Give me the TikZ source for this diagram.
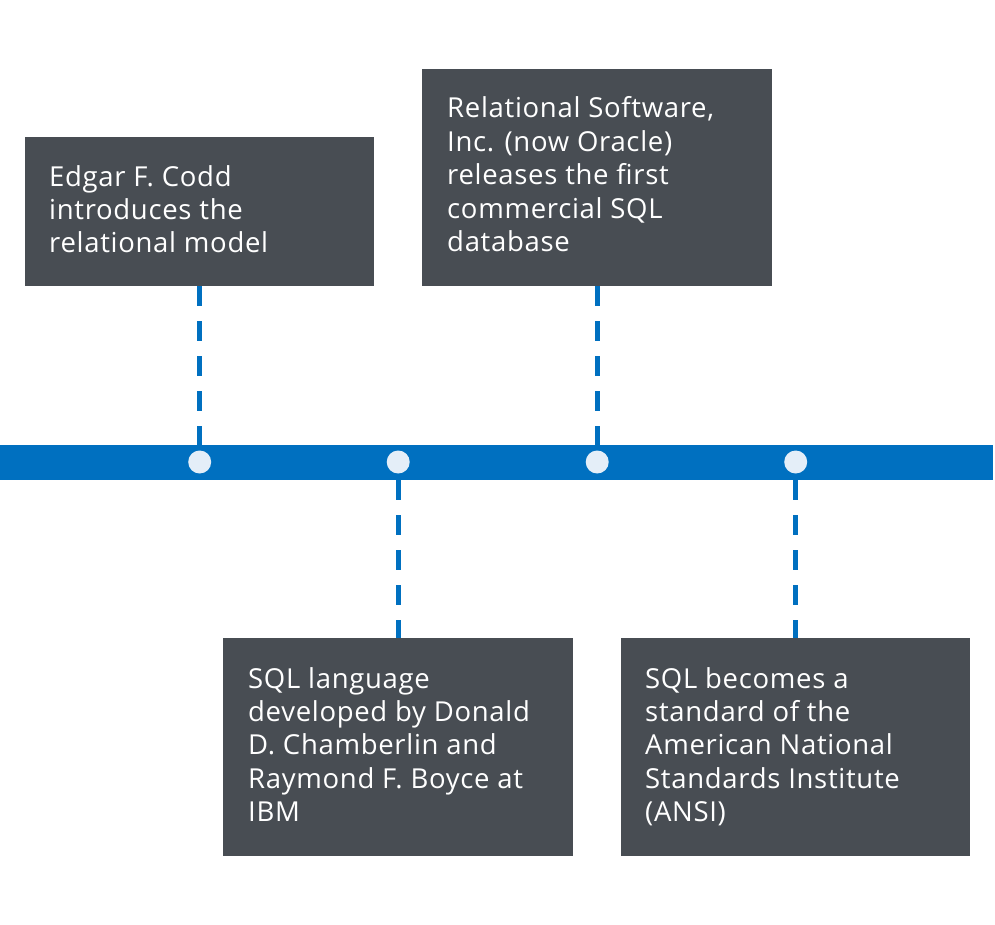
\documentclass[tikz,border=0pt]{standalone}
\usepackage{fontspec}
\setmainfont{Open Sans}[LetterSpace=2.5]
\usetikzlibrary{calc}
\definecolor{boxgrey}{HTML}{484D53}
\definecolor{barblue}{HTML}{0070C0}
\definecolor{dotfill}{HTML}{E4EEF8}
\tikzset{
  evbox/.style={fill=boxgrey, draw=none, rectangle, anchor=north west, inner sep=0pt},
  evtext/.style={anchor=base west, align=left, inner sep=0pt, text=white,
    font=\fontsize{27.5}{33.4}\selectfont},
  dashconn/.style={draw=barblue, line width=5pt, dash pattern=on 20pt off 15pt},
  dotnode/.style={circle, fill=dotfill, draw=none, minimum size=23pt, inner sep=0pt},
}
\begin{document}
\begin{tikzpicture}[x=1pt,y=-1pt]
\useasboundingbox (0,0) rectangle (995,925);
% timeline bar
\node[fill=barblue, anchor=north west, inner sep=0pt, minimum width=993pt, minimum height=35pt] (bar) at (0,445) {};
% boxes
\node[evbox, minimum width=349pt, minimum height=149pt] (b1) at (25,137) {};
\node[evbox, minimum width=350pt, minimum height=217pt] (b2) at (422,69) {};
\node[evbox, minimum width=350pt, minimum height=218pt] (b3) at (223,638) {};
\node[evbox, minimum width=349pt, minimum height=218pt] (b4) at (621,638) {};
% texts (anchored at the baseline of their last line)
\node[evtext] (t1) at ($(b1.north west)+(24,116)$) {Edgar F. Codd\\introduces the\\relational model};
\node[evtext] (t2) at ($(b2.north west)+(25,182.6)$) {Relational Software,\\Inc. (now Oracle)\\releases the first\\commercial SQL\\database};
\node[evtext] (t3) at ($(b3.north west)+(25,183.6)$) {SQL language\\developed by Donald\\D. Chamberlin and\\Raymond F. Boyce at\\IBM};
\node[evtext] (t4) at ($(b4.north west)+(24,183.6)$) {SQL becomes a\\standard of the\\American National\\Standards Institute\\(ANSI)};
% dots
\node[dotnode] (d1) at (b1.south |- 0,462) {};
\node[dotnode] (d2) at (b3.north |- 0,462) {};
\node[dotnode] (d3) at (b2.south |- 0,462) {};
\node[dotnode] (d4) at (b4.north |- 0,462) {};
% connectors
\draw[dashconn] (b1.south) -- (b1.south |- bar.north);
\draw[dashconn] (b2.south) -- (b2.south |- bar.north);
\draw[dashconn] (d2 |- bar.south) -- (b3.north);
\draw[dashconn] (d4 |- bar.south) -- (b4.north);
\end{tikzpicture}
\end{document}
